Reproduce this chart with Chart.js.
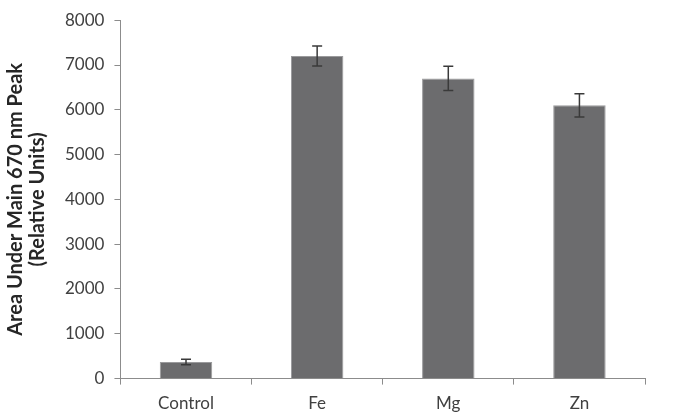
<!DOCTYPE html>
<html>
<head>
<meta charset="utf-8">
<script src="https://cdn.jsdelivr.net/npm/chart.js@4"></script>
<style>
  body { margin: 0; background: #fff; }
  #chart { display: block; }
</style>
</head>
<body>
<canvas id="chart" width="676" height="418"></canvas>
<script>
// data
const categories = ['Control', 'Fe', 'Mg', 'Zn'];
const areaValues = [370, 7200, 6700, 6100];
const areaErrors = [60, 225, 270, 260];

// draws the +/- error bars on top of each bar
const errorBarPlugin = {
  id: 'errorBars',
  afterDatasetsDraw(chart) {
    const ctx = chart.ctx;
    const yScale = chart.scales.y;
    const meta = chart.getDatasetMeta(0);
    ctx.save();
    ctx.strokeStyle = '#3a3a3a';
    ctx.lineWidth = 1.5;
    meta.data.forEach(function(bar, i) {
      const x = bar.x;
      const top = yScale.getPixelForValue(areaValues[i] + areaErrors[i]);
      const bottom = yScale.getPixelForValue(areaValues[i] - areaErrors[i]);
      ctx.beginPath();
      ctx.moveTo(x, top);
      ctx.lineTo(x, bottom);
      ctx.moveTo(x - 5, top);
      ctx.lineTo(x + 5, top);
      ctx.moveTo(x - 5, bottom);
      ctx.lineTo(x + 5, bottom);
      ctx.stroke();
    });
    ctx.restore();
  }
};

const data = {
  labels: categories,
  datasets: [
    {
      data: areaValues,
      backgroundColor: '#6c6c6e',
      borderColor: '#9a9a9c',
      borderWidth: 1,
      barPercentage: 0.4,
      categoryPercentage: 1.0
    }
  ]
};

const config = {
  type: 'bar',
  data: data,
  options: {
    responsive: false,
    animation: false,
    layout: { padding: { top: 3, right: 31, left: 1, bottom: -5 } },
    plugins: {
      legend: { display: false },
      tooltip: { enabled: false }
    },
    scales: {
      x: {
        offset: true,
        grid: {
          offset: true,
          drawOnChartArea: false,
          color: '#8c8c8c',
          tickLength: 6
        },
        border: { color: '#8c8c8c', width: 1 },
        ticks: {
          color: '#404040',
          font: { family: 'Lato', size: 17 },
          padding: 9
        }
      },
      y: {
        min: 0,
        max: 8000,
        grid: {
          drawOnChartArea: false,
          color: '#8c8c8c',
          tickLength: 6
        },
        border: { color: '#8c8c8c', width: 1 },
        ticks: {
          stepSize: 1000,
          color: '#404040',
          font: { family: 'Lato', size: 17 },
          padding: 10,
          callback: function(value) { return String(value); }
        },
        title: {
          display: true,
          text: ['Area Under Main 670 nm Peak', '(Relative Units)'],
          color: '#262626',
          font: { family: 'Lato', size: 20, weight: 'bold', lineHeight: 1.1 },
          padding: { bottom: 6 }
        }
      }
    }
  },
  plugins: [errorBarPlugin]
};

const areaChart = new Chart(document.getElementById('chart'), config);
</script>
</body>
</html>
